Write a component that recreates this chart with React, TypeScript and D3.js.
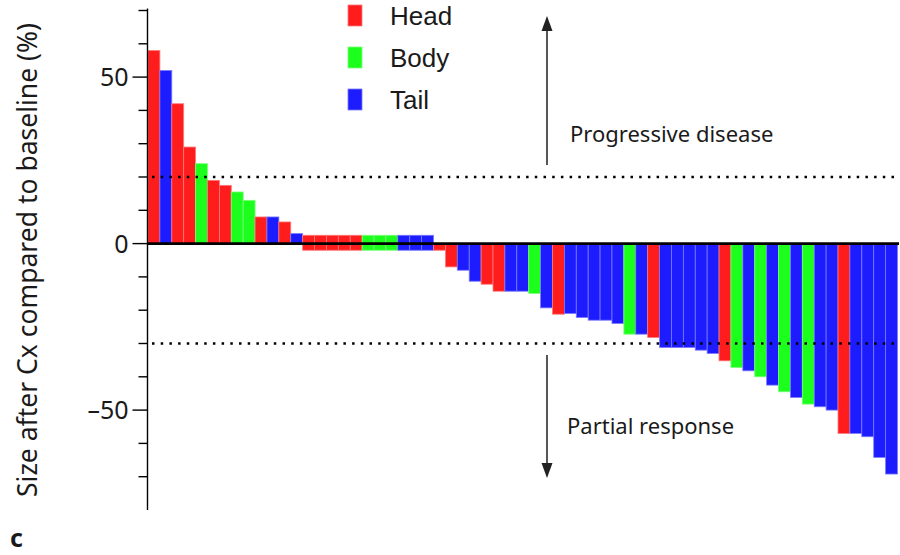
import React from "react";
import * as d3 from "d3";

// Tumour location of each patient, ordered by response (waterfall order)
const locations: string[] = [
  "Head", "Tail", "Head", "Head", "Body", "Head", "Head", "Body", "Body", "Head", "Tail", "Head", "Tail",
  "Head", "Head", "Head", "Head", "Head", "Body", "Body", "Body", "Tail", "Tail", "Tail",
  "Head", "Head", "Tail", "Tail", "Head", "Head", "Tail", "Tail", "Body", "Tail", "Head",
  "Tail", "Tail", "Tail", "Tail", "Tail", "Body", "Tail", "Head",
  "Tail", "Tail", "Tail", "Tail", "Tail",
  "Head", "Body", "Tail", "Body", "Tail", "Body", "Tail", "Body", "Tail", "Tail",
  "Head", "Tail", "Tail", "Tail", "Tail",
];

// Change in tumour size after chemotherapy, % of baseline
const sizeChange: number[] = [
  58, 52, 42, 29, 24, 19, 17.5, 15.5, 13, 8, 8, 6.5, 3,
  0, 0, 0, 0, 0, 0, 0, 0, 0, 0, 0,
  -2, -7, -8, -11.3, -12.2, -14.3, -14.3, -14.3, -15, -19.3, -21.2,
  -21, -22.2, -23, -23, -24, -27.2, -27.2, -28.2,
  -31.2, -31.2, -31.2, -32, -33,
  -35.2, -37.2, -38.2, -40, -42.5, -44.5, -46.2, -48.2, -49, -50,
  -57, -57, -58, -64.2, -69.2,
];

const legendItems: string[] = ["Head", "Body", "Tail"];
const majorTicks: number[] = [-50, 0, 50];
const minorTicks: number[] = [-70, -60, -40, -30, -20, -10, 10, 20, 30, 40, 60, 70];
const thresholds = { progressive: 20, partial: -30 };

const fillColor: Record<string, string> = {
  Head: "#ff1c1c",
  Body: "#1cff1c",
  Tail: "#1c1cff",
};
const edgeColor: Record<string, string> = {
  Head: "#ff7a7a",
  Body: "#7aff7a",
  Tail: "#7a7aff",
};

const FONT = "'Noto Sans', 'Open Sans', sans-serif";
const LEGEND_FONT = "'Liberation Sans', Arial, sans-serif";
const TEXT = "#1a1a1a";

export default function App() {
  const width = 900;
  const height = 555;
  const axisX = 147.5;

  const y = d3.scaleLinear().domain([-80, 70]).range([510, 10.5]);
  const x = d3
    .scaleBand<number>()
    .domain(d3.range(sizeChange.length))
    .range([148, 897.5])
    .padding(0);

  // zero changes are shown as a thin band straddling the baseline
  const zeroBand: [number, number] = [2.5, -2];

  const arrowX = 547;

  return (
    <svg
      width={width}
      height={height}
      viewBox={`0 0 ${width} ${height}`}
      style={{ position: "absolute", left: 0, top: 0, background: "#fff" }}
    >
      {/* bars */}
      <g>
        {sizeChange.map((v, i) => {
          const top = v === 0 ? zeroBand[0] : Math.max(v, 0);
          const bottom = v === 0 ? zeroBand[1] : Math.min(v, 0);
          const loc = locations[i];
          return (
            <rect
              key={i}
              x={x(i)!}
              width={x.bandwidth()}
              y={y(top)}
              height={y(bottom) - y(top)}
              fill={fillColor[loc]}
              stroke={edgeColor[loc]}
              strokeWidth={0.8}
            />
          );
        })}
      </g>

      {/* threshold lines */}
      {[thresholds.progressive, thresholds.partial].map((t) => (
        <line
          key={t}
          x1={152}
          x2={900}
          y1={y(t)}
          y2={y(t)}
          stroke="#000"
          strokeWidth={2.5}
          strokeDasharray="2.5 6.2"
        />
      ))}

      {/* zero line */}
      <line x1={axisX} x2={899} y1={y(0)} y2={y(0)} stroke="#000" strokeWidth={2.6} />

      {/* y axis */}
      <line x1={axisX} x2={axisX} y1={y(70) - 2} y2={y(-80)} stroke="#000" strokeWidth={1.4} />
      {majorTicks.map((t) => (
        <g key={t}>
          <line x1={axisX - 15} x2={axisX} y1={y(t)} y2={y(t)} stroke="#000" strokeWidth={1.4} />
          <text
            x={axisX - 19}
            y={y(t)}
            dy="0.36em"
            textAnchor="end"
            fontFamily={FONT}
            fontSize={25}
            fill={TEXT}
          >
            {t < 0 ? `\u2013${Math.abs(t)}` : t}
          </text>
        </g>
      ))}
      {minorTicks.map((t) => (
        <line key={t} x1={axisX - 9} x2={axisX} y1={y(t)} y2={y(t)} stroke="#000" strokeWidth={1.4} />
      ))}

      {/* y axis title */}
      <text
        transform={`translate(37, ${260}) rotate(-90)`}
        textAnchor="middle"
        fontFamily={FONT}
        fontSize={26.5}
        fill={TEXT}
      >
        Size after Cx compared to baseline (%)
      </text>

      {/* direction arrows */}
      <g stroke="#444" fill="#222">
        <line x1={arrowX} x2={arrowX} y1={165} y2={28} strokeWidth={1.8} />
        <path d={`M${arrowX},16 L${arrowX - 5.5},31 L${arrowX + 5.5},31 Z`} stroke="none" />
        <line x1={arrowX} x2={arrowX} y1={355} y2={466} strokeWidth={1.8} />
        <path d={`M${arrowX},478 L${arrowX - 5.5},463 L${arrowX + 5.5},463 Z`} stroke="none" />
      </g>
      <text x={570} y={142} fontFamily={FONT} fontSize={22} fill={TEXT}>
        Progressive disease
      </text>
      <text x={567} y={434} fontFamily={FONT} fontSize={22} fill={TEXT}>
        Partial response
      </text>

      {/* legend */}
      {legendItems.map((name, i) => (
        <g key={name} transform={`translate(348, ${5 + i * 42})`}>
          <rect
            width={14}
            height={21}
            fill={fillColor[name]}
            stroke={edgeColor[name]}
            strokeWidth={0.8}
          />
          <text x={42} y={20} fontFamily={LEGEND_FONT} fontSize={26} fill={TEXT}>
            {name}
          </text>
        </g>
      ))}

      {/* panel letter */}
      <text x={10} y={547} fontFamily={FONT} fontSize={25} fontWeight="bold" fill={TEXT}>
        c
      </text>
    </svg>
  );
}
